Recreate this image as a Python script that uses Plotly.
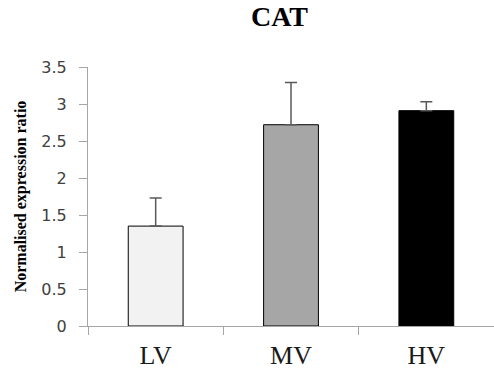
import plotly.graph_objects as go

# Expression data for CAT
groups = ["LV", "MV", "HV"]
ratios = [1.35, 2.72, 2.91]
errors = [0.38, 0.57, 0.12]
fill_colors = ["#f2f2f2", "#a6a6a6", "#000000"]
y_ticks = [0, 0.5, 1, 1.5, 2, 2.5, 3, 3.5]
y_tick_text = ["0", "0.5", "1", "1.5", "2", "2.5", "3", "3.5"]

fig = go.Figure(
    go.Bar(
        x=groups,
        y=ratios,
        width=0.405,
        marker=dict(color=fill_colors, line=dict(color="#000000", width=1)),
        error_y=dict(
            type="data",
            array=errors,
            symmetric=False,
            arrayminus=[0, 0, 0],
            color="#595959",
            thickness=1.5,
            width=6,
        ),
    )
)

fig.update_layout(
    width=494,
    height=382,
    margin=dict(l=88, r=0, t=67, b=56),
    paper_bgcolor="white",
    plot_bgcolor="white",
    showlegend=False,
    title=dict(
        text="<b>CAT</b>",
        x=279.5 / 494,
        xanchor="center",
        y=1 - 16.5 / 382,
        yanchor="middle",
        font=dict(family="Liberation Serif, Times New Roman, serif", size=28, color="#000000"),
    ),
    xaxis=dict(
        type="category",
        range=[-0.5, 2.5],
        showline=True,
        linecolor="#a6a6a6",
        linewidth=1,
        ticks="outside",
        tickson="boundaries",
        ticklen=8,
        tickcolor="#a6a6a6",
        tickwidth=1,
        showgrid=False,
        ticklabelstandoff=6,
        tickfont=dict(family="Liberation Serif, serif", size=26, color="#1a1a1a"),
    ),
    yaxis=dict(
        range=[0, 3.5],
        tickvals=y_ticks,
        ticktext=y_tick_text,
        showline=True,
        linecolor="#a6a6a6",
        linewidth=1,
        ticks="outside",
        ticklen=8,
        tickcolor="#a6a6a6",
        tickwidth=1,
        showgrid=False,
        zeroline=False,
        ticklabelstandoff=9,
        tickfont=dict(family="DejaVu Sans", size=16, color="#404040"),
        title=dict(
            text="<b>Normalised expression ratio</b>",
            font=dict(family="Liberation Serif, serif", size=16, color="#000000"),
            standoff=10,
        ),
    ),
)

fig.write_html("out.html")
